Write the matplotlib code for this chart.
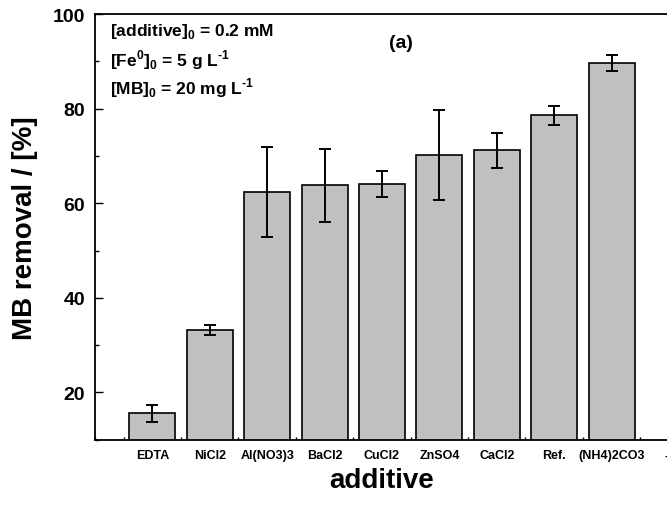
import matplotlib
matplotlib.use("Agg")
import matplotlib.pyplot as plt
from matplotlib.ticker import MultipleLocator

plt.rcParams['font.family'] = ['Liberation Sans', 'DejaVu Sans']
plt.rcParams['font.weight'] = 'bold'
plt.rcParams['mathtext.fontset'] = 'custom'
plt.rcParams['mathtext.rm'] = 'Liberation Sans:bold'
plt.rcParams['mathtext.bf'] = 'Liberation Sans:bold'

# data
additives = ['EDTA', 'NiCl2', 'Al(NO3)3', 'BaCl2', 'CuCl2', 'ZnSO4', 'CaCl2', 'Ref.', '(NH4)2CO3']
removal = [15.6, 33.2, 62.4, 63.8, 64.1, 70.2, 71.2, 78.6, 89.6]
err = [1.8, 1.0, 9.5, 7.7, 2.7, 9.6, 3.7, 2.0, 1.7]
tick_labels = additives + ['--']

fig = plt.figure(figsize=(6.67, 5.06), dpi=100)
ax = fig.add_axes([0.1424, 0.129, 0.8606, 0.841])

x = list(range(1, len(additives) + 1))
ax.bar(x, removal, width=0.8, color='#c0c0c0', edgecolor='black', linewidth=1.2, zorder=2)
ax.errorbar(x, removal, yerr=err, fmt='none', ecolor='black', elinewidth=1.4,
            capsize=4.5, capthick=1.4, zorder=3)

ax.set_xlim(0, 10)
ax.set_ylim(10, 100)
ax.set_xticks(range(1, 11))
ax.set_xticklabels(tick_labels, fontsize=9, fontweight='bold')
ax.xaxis.set_minor_locator(MultipleLocator(0.5))
ax.yaxis.set_major_locator(MultipleLocator(20))
ax.yaxis.set_minor_locator(MultipleLocator(10))
ax.tick_params(axis='y', which='major', direction='in', length=6, width=1, labelsize=14, pad=7)
ax.tick_params(axis='y', which='minor', direction='in', length=3, width=1)
ax.tick_params(axis='x', which='major', direction='in', length=3, width=1, pad=7)
ax.tick_params(axis='x', which='minor', direction='in', length=2, width=1)
for lbl in ax.get_yticklabels():
    lbl.set_fontweight('bold')
for s in ax.spines.values():
    s.set_linewidth(1.3)

ax.set_ylabel('MB removal / [%]', fontsize=20, fontweight='bold')
ax.yaxis.set_label_coords(-0.1, 0.5)
ax.set_xlabel('additive', fontsize=20, fontweight='bold')
ax.xaxis.set_label_coords(0.5, -0.064)

# annotations
fs = 12.5
fig.text(0.165, 0.937, r'[additive]$_\mathbf{0}$ = 0.2 mM', fontsize=fs, fontweight='bold', va='center')
fig.text(0.165, 0.881, '[Fe$^\\mathbf{0}$]$_\\mathbf{0}$ = 5 g L$^\\mathbf{\u20101}$', fontsize=fs, fontweight='bold', va='center')
fig.text(0.165, 0.826, '[MB]$_\\mathbf{0}$ = 20 mg L$^\\mathbf{\u20101}$', fontsize=fs, fontweight='bold', va='center')
fig.text(0.601, 0.915, '(a)', fontsize=14, fontweight='bold', ha='center', va='center')

fig.savefig('out.png', dpi=100)
